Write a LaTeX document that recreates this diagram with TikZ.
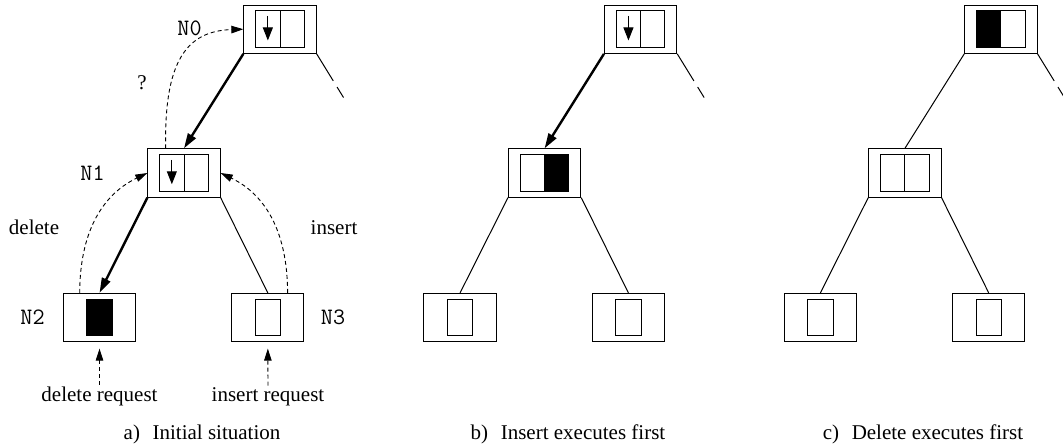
\documentclass[tikz,border=0pt]{standalone}
\usepackage{fontspec}
\setmainfont{Liberation Serif}
\usetikzlibrary{arrows.meta,calc}
\begin{document}
\begin{tikzpicture}[x=1pt,y=-1pt,
  every node/.style={font=\fontsize{21}{25}\selectfont, inner sep=0pt},
  lbl/.style={anchor=base},
  mono/.style={anchor=base, font=\fontsize{23.5}{27}\selectfont\ttfamily},
  outer/.style={draw, line width=1pt, minimum width=72.3pt, minimum height=48.3pt},
  cell/.style={draw, line width=1pt, minimum width=24.3pt, minimum height=36.5pt},
  leaf/.style={draw, line width=1pt, minimum width=25.3pt, minimum height=36.7pt},
  full/.style={fill=black},
  link/.style={line width=1pt},
  heavy/.style={line width=2.4pt, -{Triangle[length=15pt,width=9pt]}},
  dlink/.style={line width=0.9pt, dash pattern=on 4pt off 3pt, -{Triangle[length=12pt,width=7.5pt]}},
  cellarrow/.style={line width=1pt, -{Triangle[length=13pt,width=10pt]}}
]
\useasboundingbox (0,0) rectangle (1063,445);
\clip (0,0) rectangle (1063,445);

% ---------- panel a ----------
\node[outer] (a0) at (280,29.2) {};
\node[cell] (a0l) at (267.85,29.2) {};
\node[cell] (a0r) at (292.15,29.2) {};
\node[outer] (a1) at (184,173) {};
\node[cell] (a1l) at (171.85,173) {};
\node[cell] (a1r) at (196.15,173) {};
\node[outer] (a2) at (99.5,317.5) {};
\node[leaf,full] (a2i) at (99.5,317.5) {};
\node[outer] (a3) at (267.8,317.5) {};
\node[leaf] (a3i) at (267.8,317.5) {};
\coordinate (a0e) at (343.5,97.5);

\draw[cellarrow] ($(a0l.north)+(0,5.5)$) -- ($(a0l.south)+(0,-7.5)$);
\draw[cellarrow] ($(a1l.north)+(0,5.5)$) -- ($(a1l.south)+(0,-7.5)$);

\draw[heavy] (a0.south west) -- (a1.north);
\draw[heavy] (a1.south west) -- (a2.north);
\draw[link] (a1.south east) -- (a3.north);
\draw[link] (a0.south east) -- ($(a0.south east)!0.62!(a0e)$);
\draw[link] ($(a0.south east)!0.76!(a0e)$) -- (a0e);

\coordinate (a1q) at ($(a1.north west)!0.25!(a1.north east)$);
\draw[dlink] (a1q) .. controls (164,62) and (186,31) .. (a0.west);
\coordinate (a2d) at ($(a2.north west)!0.23!(a2.north east)$);
\draw[dlink] (a2d) .. controls (80,215) and (116,188) .. (a1.west);
\coordinate (a3d) at ($(a3.north west)!0.77!(a3.north east)$);
\draw[dlink] (a3d) .. controls (287.4,215) and (252,188) .. (a1.east);

\node[mono] (l0) at (189.5,35) {N0};
\node[mono] (l1) at (92.5,180) {N1};
\node[mono] (l2) at (32.5,324) {N2};
\node[mono] (l3) at (333,324) {N3};
\node[lbl] (q) at (142,89.3) {?};
\node[lbl] (ldel) at (34,234) {delete};
\node[lbl] (lins) at (334,234) {insert};
\node[lbl] (rdel) at (99.5,401.7) {delete request};
\node[lbl] (rins) at (268,401.7) {insert request};
\draw[dlink, shorten <=2pt, shorten >=6.5pt] (rdel.north) -- (a2.south);
\draw[dlink, shorten <=2pt, shorten >=6.5pt] (rins.north) -- (a3.south);
\node[lbl] (capa) at (202,439) {a)\hspace{0.6em}Initial situation};

% ---------- panel b ----------
\node[outer] (b0) at (640.6,29.2) {};
\node[cell] (b0l) at (628.45,29.2) {};
\node[cell] (b0r) at (652.75,29.2) {};
\node[outer] (b1) at (544.6,173) {};
\node[cell] (b1l) at (532.45,173) {};
\node[cell,full] (b1r) at (556.75,173) {};
\node[outer] (b2) at (460.1,317.5) {};
\node[leaf] (b2i) at (460.1,317.5) {};
\node[outer] (b3) at (628.4,317.5) {};
\node[leaf] (b3i) at (628.4,317.5) {};
\coordinate (b0e) at (704.1,97.5);

\draw[cellarrow] ($(b0l.north)+(0,5.5)$) -- ($(b0l.south)+(0,-7.5)$);
\draw[heavy] (b0.south west) -- (b1.north);
\draw[link] (b1.south west) -- (b2.north);
\draw[link] (b1.south east) -- (b3.north);
\draw[link] (b0.south east) -- ($(b0.south east)!0.62!(b0e)$);
\draw[link] ($(b0.south east)!0.76!(b0e)$) -- (b0e);
\node[lbl] (capb) at (568,439) {b)\hspace{0.6em}Insert executes first};

% ---------- panel c ----------
\node[outer] (c0) at (1000.9,29.2) {};
\node[cell,full] (c0l) at (988.75,29.2) {};
\node[cell] (c0r) at (1013.05,29.2) {};
\node[outer] (c1) at (904.9,173) {};
\node[cell] (c1l) at (892.75,173) {};
\node[cell] (c1r) at (917.05,173) {};
\node[outer] (c2) at (820.4,317.5) {};
\node[leaf] (c2i) at (820.4,317.5) {};
\node[outer] (c3) at (988.7,317.5) {};
\node[leaf] (c3i) at (988.7,317.5) {};
\coordinate (c0e) at (1064.4,97.5);

\draw[link] (c0.south west) -- (c1.north);
\draw[link] (c1.south west) -- (c2.north);
\draw[link] (c1.south east) -- (c3.north);
\draw[link] (c0.south east) -- ($(c0.south east)!0.62!(c0e)$);
\draw[link] ($(c0.south east)!0.76!(c0e)$) -- (c0e);
\node[lbl] (capc) at (923,439) {c)\hspace{0.6em}Delete executes first};
\end{tikzpicture}
\end{document}
